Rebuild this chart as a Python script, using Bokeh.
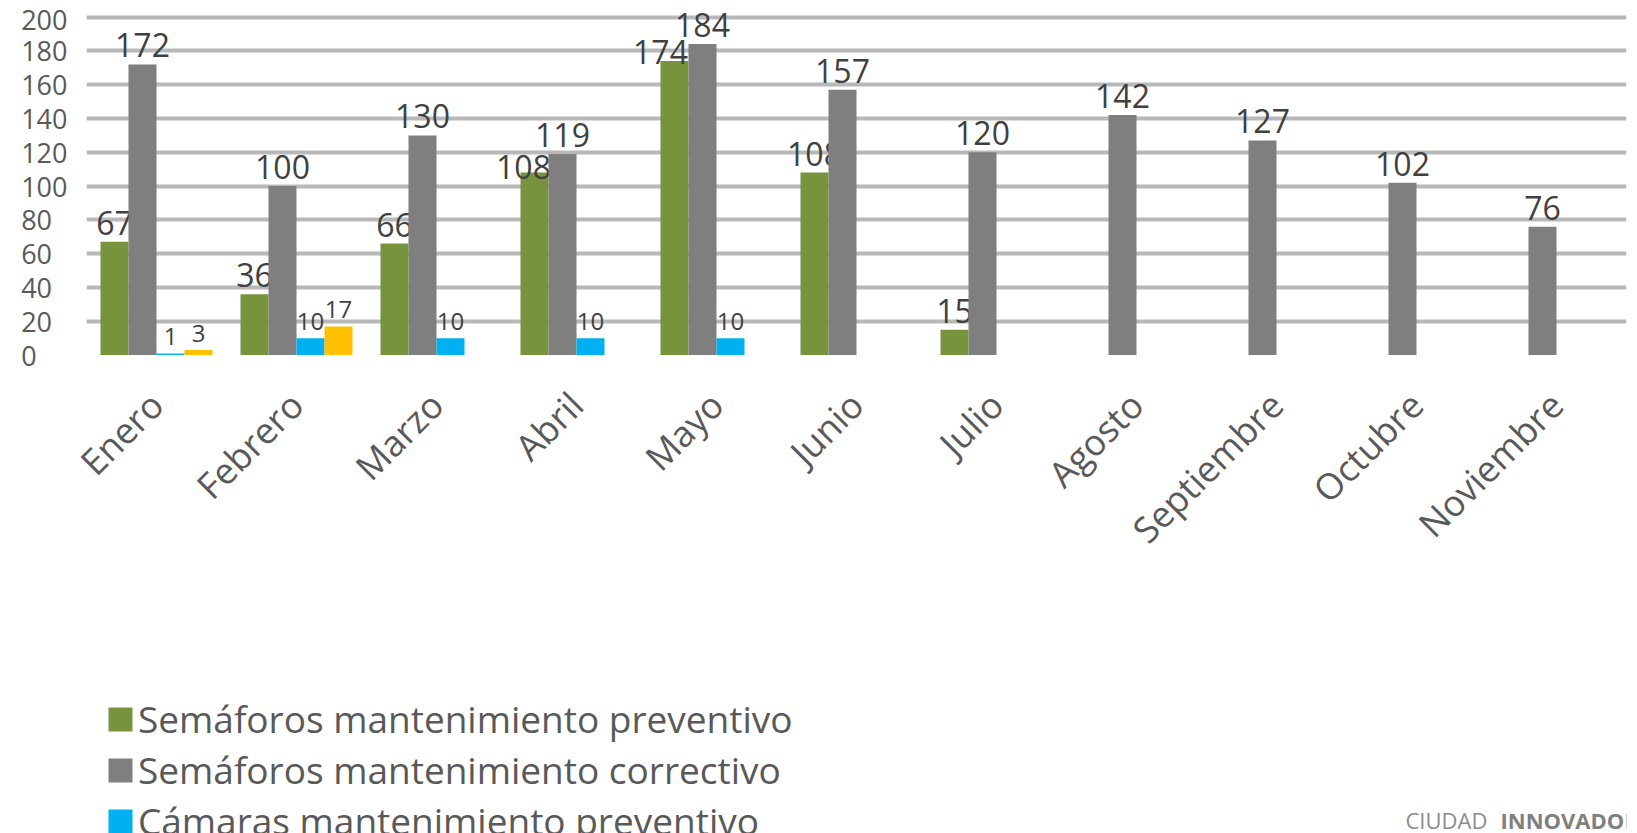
import math
from bokeh.plotting import figure
from bokeh.layouts import column
from bokeh.models import (ColumnDataSource, FactorRange, Range1d, FixedTicker,
                          Legend, LegendItem, Label)
from bokeh.transform import dodge
from bokeh.core.properties import value
from bokeh.embed import file_html
from bokeh.resources import INLINE

# ---------------- data ----------------
months = ["Enero", "Febrero", "Marzo", "Abril", "Mayo", "Junio", "Julio",
          "Agosto", "Septiembre", "Octubre", "Noviembre"]
sem_preventivo = [67, 36, 66, 108, 174, 108, 15, None, None, None, None]
sem_correctivo = [172, 100, 130, 119, 184, 157, 120, 142, 127, 102, 76]
cam_preventivo = [1, 10, 10, 10, 10, None, None, None, None, None, None]
cam_correctivo = [3, 17, None, None, None, None, None, None, None, None, None]
series_names = ["Semáforos mantenimiento preventivo",
                "Semáforos mantenimiento correctivo",
                "Cámaras mantenimiento preventivo",
                "Cámaras mantenimiento correctivo"]
y_ticks = [0, 20, 40, 60, 80, 100, 120, 140, 160, 180, 200]

# styling
colors = ["#77933C", "#7F7F7F", "#00B0F0", "#FFC000"]
offsets = [-0.3, -0.1, 0.1, 0.3]
label_sizes = [32, 32, 24, 24]
# manual nudges of a few data labels (series index, month) -> (dx, dy) px
label_nudges = {(0, "Abril"): (-11, 13), (0, "Mayo"): (-14, 10)}

FONT = "Open Sans"
W = 1637
H_CHART, H_LEGEND = 660, 173

p = figure(width=W, height=H_CHART, x_range=FactorRange(*months, range_padding=0),
           y_range=Range1d(-2, 209.8), output_backend="svg",
           toolbar_location=None, min_border_left=86, min_border_right=11,
           min_border_top=0, min_border_bottom=H_CHART - 358)
p.outline_line_color = None
p.background_fill_color = "white"

# grid
p.xgrid.grid_line_color = None
p.ygrid.ticker = FixedTicker(ticks=[t for t in y_ticks if t > 0])
p.ygrid.grid_line_color = "#B8B8B8"
p.ygrid.grid_line_width = 4

# y axis
p.yaxis.ticker = FixedTicker(ticks=y_ticks)
p.yaxis.major_label_overrides = {t: str(t) + "\u2007" * (3 - len(str(t))) for t in y_ticks}
p.yaxis.axis_line_color = None
p.yaxis.major_tick_line_color = None
p.yaxis.minor_tick_line_color = None
p.yaxis.major_tick_out = 0
p.yaxis.major_label_standoff = 19
p.yaxis.major_label_text_font = FONT
p.yaxis.major_label_text_font_size = "27px"
p.yaxis.major_label_text_color = "#595959"

# x axis
p.xaxis.axis_line_color = None
p.xaxis.major_tick_line_color = None
p.xaxis.major_tick_out = 0
p.xaxis.major_label_orientation = math.pi / 4
p.xaxis.major_label_standoff = 40
p.xaxis.major_label_text_font = FONT
p.xaxis.major_label_text_font_size = "36px"
p.xaxis.major_label_text_color = "#595959"

# ---------------- legend strip (below the chart) ----------------
q = figure(width=W, height=H_LEGEND, x_range=p.x_range, y_range=Range1d(-2, 209.8),
           output_backend="svg", toolbar_location=None, min_border=0,
           x_axis_location=None, y_axis_location=None)
q.grid.visible = False
q.outline_line_color = None

all_series = [sem_preventivo, sem_correctivo, cam_preventivo, cam_correctivo]
items = []
for i, vals in enumerate(all_series):
    xs, tops, labels, xo, yo = [], [], [], [], []
    base_dy = -10 - round(0.29 * label_sizes[i])
    for m, v in zip(months, vals):
        if v is None:
            continue
        dx, dy = label_nudges.get((i, m), (0, 0))
        xs.append(m)
        tops.append(v)
        labels.append(str(v))
        xo.append(dx)
        yo.append(base_dy + dy)
    src = ColumnDataSource(dict(month=xs, top=tops, label=labels, xo=xo, yo=yo))
    p.vbar(x=dodge("month", offsets[i], range=p.x_range), top="top", bottom=0,
           width=0.2, source=src, fill_color=colors[i], line_color=None)
    p.text(x=dodge("month", offsets[i], range=p.x_range), y="top", text="label",
           x_offset="xo", y_offset="yo", source=src, text_align="center",
           text_baseline="alphabetic", text_font=value(FONT),
           text_font_size=f"{label_sizes[i]}px", text_color="#404040")
    # legend proxy (same series, not drawn in the strip itself)
    r = q.vbar(x=dodge("month", offsets[i], range=p.x_range), top="top", bottom=0,
               width=0.2, source=src, fill_color=colors[i], line_color=None,
               visible=False)
    items.append(LegendItem(label=series_names[i], renderers=[r]))

legend = Legend(items=items, location=(19, H_LEGEND - 37 - 200), orientation="vertical",
                padding=0, margin=0, spacing=0, label_height=50,
                glyph_height=30, glyph_width=30, label_standoff=3,
                label_text_font=FONT, label_text_font_size="37px",
                label_text_color="#595959", border_line_color=None,
                background_fill_alpha=0, inactive_fill_alpha=0)
q.add_layout(legend, "center")

# footer brand text
q.add_layout(Label(x=1319, y=14, x_units="screen", y_units="screen", text="CIUDAD",
                   text_font=FONT, text_font_size="22px", text_color="#8C8C8C",
                   text_baseline="alphabetic"))
q.add_layout(Label(x=1414, y=14, x_units="screen", y_units="screen", text="INNOVADOR",
                   text_font=FONT, text_font_size="22px", text_font_style="bold",
                   text_color="#7F7F7F", text_baseline="alphabetic"))

layout = column(p, q, spacing=0)
open("out.html", "w").write(file_html(layout, INLINE))
